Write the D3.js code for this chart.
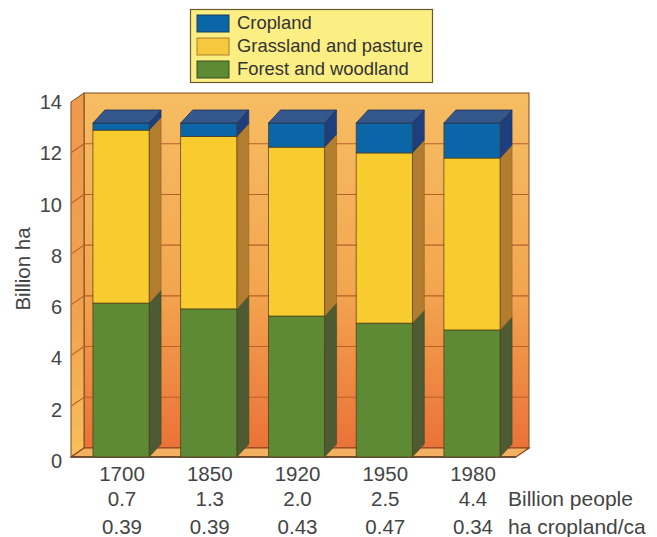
<!DOCTYPE html>
<html><head><meta charset="utf-8">
<script src="https://cdn.jsdelivr.net/npm/d3@7"></script>
<style>html,body{margin:0;padding:0;background:#fff}svg{display:block}text{font-family:"Liberation Sans",Arial,sans-serif;fill:#444}</style>
</head><body><div id="c"></div>
<script>
const years = ["1700","1850","1920","1950","1980"];
const people = ["0.7","1.3","2.0","2.5","4.4"];
const haPerCapita = ["0.39","0.39","0.43","0.47","0.34"];
const forest = [6.07, 5.84, 5.56, 5.28, 5.01];
const grassland = [6.82, 6.80, 6.66, 6.71, 6.78];
const cropland = [0.28, 0.53, 0.95, 1.18, 1.38];
const yTicks = [0,2,4,6,8,10,12,14];
const seriesKeys = ["forest","grassland","cropland"];
const legendItems = ["Cropland","Grassland and pasture","Forest and woodland"];

const W=657,H=537, dx=13, dy=-9, barDy=-13, barDx=12;
const svg=d3.select("#c").append("svg").attr("width",W).attr("height",H);
const y=d3.scaleLinear().domain([0,14]).range([457,102]);
const yLabel=d3.scaleLinear().domain([0,14]).range([468,109]);
const x=d3.scaleBand().domain(years).range([71,522]).paddingInner(0.36).paddingOuter(0.25);
const colors={cropland:{f:"#0b66a8",t:"#34588c",s:"#1d3f80"},
 grassland:{f:"#f8cc2e",t:"#f8cc2e",s:"#b27d2e"},
 forest:{f:"#5f8a35",t:"#5f8a35",s:"#4d5a32"}};

const defs=svg.append("defs");
const g1=defs.append("linearGradient").attr("id","wall").attr("x1",0).attr("x2",0).attr("y1",0).attr("y2",1);
g1.append("stop").attr("offset","0").attr("stop-color","#f6bd63");
g1.append("stop").attr("offset","0.55").attr("stop-color","#f3a650");
g1.append("stop").attr("offset","1").attr("stop-color","#ea7238");
const g2=defs.append("linearGradient").attr("id","side").attr("x1",0).attr("x2",0).attr("y1",0).attr("y2",1);
g2.append("stop").attr("offset","0").attr("stop-color","#ee9a4c");
g2.append("stop").attr("offset","0.6").attr("stop-color","#f0a24e");
g2.append("stop").attr("offset","1").attr("stop-color","#f8c05a");

const xL=x.range()[0], xR=516, y0=y(0), yT=y(14);
const line=d3.line();
const edge="#7a4a22";
svg.append("rect").attr("x",xL+dx).attr("y",yT+dy).attr("width",xR-xL).attr("height",y0-yT)
  .attr("fill","url(#wall)").attr("stroke",edge).attr("stroke-width",1);
svg.append("path").attr("d",line([[xL,yT],[xL+dx,yT+dy],[xL+dx,y0+dy],[xL,y0]])+"Z")
  .attr("fill","url(#side)").attr("stroke",edge).attr("stroke-width",1).attr("stroke-linejoin","round");
svg.append("path").attr("d",line([[xL,y0],[xL+dx,y0+dy],[xR+dx,y0+dy],[xR,y0]])+"Z")
  .attr("fill","#f3b060").attr("stroke","#8a3f1c").attr("stroke-width",1.2);
yTicks.slice(1,-1).forEach(t=>{
  svg.append("path").attr("d",line([[xL,y(t)],[xL+dx,y(t)+dy],[xR+dx,y(t)+dy]]))
   .attr("fill","none").attr("stroke","#b8602a").attr("stroke-width",1.1);
});
svg.append("path").attr("d",line([[xL,y0],[xR,y0]])).attr("stroke","#5a3a20").attr("stroke-width",1.4).attr("fill","none");

const rows=years.map((yr,i)=>({year:yr,forest:forest[i],grassland:grassland[i],cropland:cropland[i]}));
const stacked=d3.stack().keys(seriesKeys)(rows);
const bw=x.bandwidth();
stacked.forEach(s=>{
  const c=colors[s.key];
  s.forEach(d=>{
    const X=x(d.data.year), top=y(d[1]), bot=y(d[0]);
    const g=svg.append("g");
    g.append("path").attr("d",line([[X+bw,top],[X+bw+barDx,top+barDy],[X+bw+barDx,bot+barDy],[X+bw,bot]])+"Z")
      .attr("fill",c.s).attr("stroke",d3.color(c.s).darker(0.6)).attr("stroke-width",0.6);
    g.append("rect").attr("x",X).attr("y",top).attr("width",bw).attr("height",bot-top)
      .attr("fill",c.f).attr("stroke","#4a3a1c").attr("stroke-width",0.7);
    if(s.key==="cropland"){
      g.append("path").attr("d",line([[X,top],[X+barDx,top+barDy],[X+bw+barDx,top+barDy],[X+bw,top]])+"Z")
       .attr("fill",c.t).attr("stroke","#1c2f55").attr("stroke-width",0.8);
    }
  });
});

svg.selectAll(".yl").data(yTicks).join("text").attr("class","yl")
  .attr("x",62).attr("y",t=>yLabel(t)).attr("text-anchor","end").attr("font-size",20).text(t=>t);
svg.append("text").attr("transform","translate(30,269) rotate(-90)").attr("text-anchor","middle")
  .attr("font-size",20.5).text("Billion ha");

const rowsText=[[years,481],[people,506],[haPerCapita,534]];
rowsText.forEach(([arr,yy])=>{
  svg.selectAll(null).data(arr).join("text")
    .attr("x",(d,i)=>x(years[i])+bw/2+1).attr("y",yy).attr("text-anchor","middle").attr("font-size",20.5).text(d=>d);
});
svg.append("text").attr("x",508).attr("y",506).attr("font-size",21).text("Billion people");
svg.append("text").attr("x",508).attr("y",534).attr("font-size",21).text("ha cropland/ca");

const lg=svg.append("g");
lg.append("rect").attr("x",190.5).attr("y",9.5).attr("width",242).attr("height",73).attr("fill","#fbee83").attr("stroke","#6b5a2c").attr("stroke-width",1.2);
const legendColors=["#0b66a8","#f6c83e","#5f8a35"];
const legendEdges=["#1a3a5a","#a8802a","#3a4a20"];
legendItems.forEach((t,i)=>{
  const yy=15+i*23;
  lg.append("rect").attr("x",197).attr("y",yy).attr("width",32).attr("height",17).attr("fill",legendColors[i]).attr("stroke",legendEdges[i]).attr("stroke-width",1);
  lg.append("text").attr("x",237).attr("y",yy+14).attr("font-size",18.4).style("fill","#333").text(t);
});
</script></body></html>
